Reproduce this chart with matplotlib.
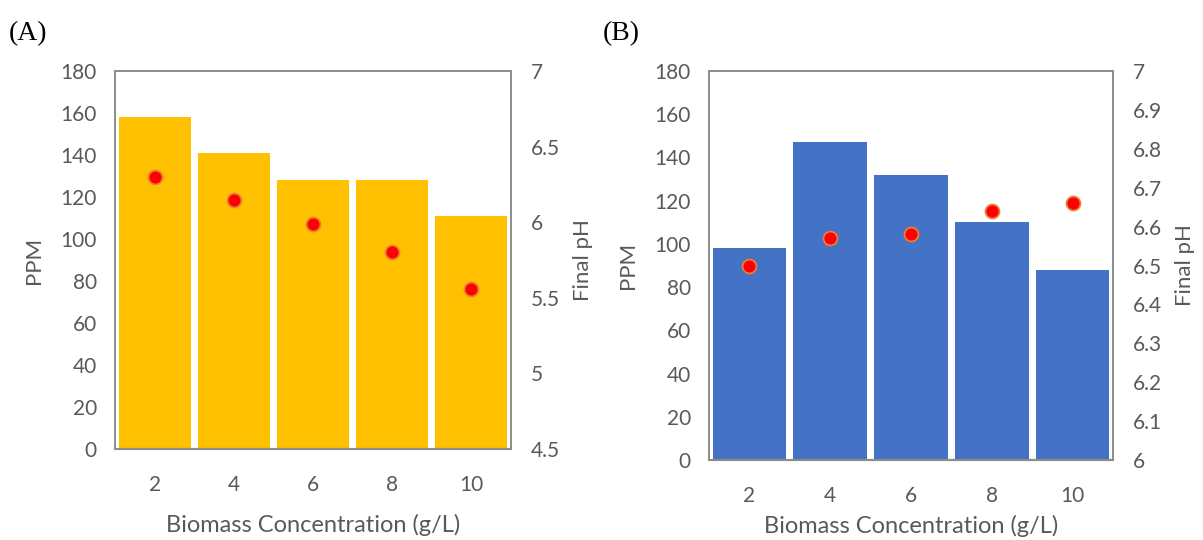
import matplotlib.pyplot as plt

plt.rcParams['font.family'] = ['Lato', 'DejaVu Sans']

biomass = ['2', '4', '6', '8', '10']

ppm_a = [158, 141, 128, 128, 111]
ph_a = [6.30, 6.15, 5.99, 5.80, 5.56]

ppm_b = [98, 147, 132, 110, 88]
ph_b = [6.50, 6.57, 6.58, 6.64, 6.66]

text_color = '#595959'


def draw_panel(ax, ppm, ph, bar_color, ph_lim, ph_ticks, ph_labels, tag, xlabel_pad):
    x = range(len(biomass))
    ax.bar(x, ppm, width=0.91, color=bar_color, zorder=2)
    ax.set_xlim(-0.5, len(biomass) - 0.5)
    ax.set_ylim(0, 180)
    ax.set_yticks(range(0, 181, 20))
    ax.set_xticks(list(x))
    ax.set_xticklabels(biomass)
    ax.tick_params(length=0, labelsize=15, colors=text_color, pad=13)
    ax.tick_params(axis='x', pad=19)
    ax.set_xlabel('Biomass Concentration (g/L)', fontsize=17, color=text_color,
                  labelpad=xlabel_pad)
    ax.set_ylabel('PPM', fontsize=16, color=text_color, labelpad=12)

    ax2 = ax.twinx()
    ax2.plot(list(x), ph, 'o', color='#ff0000', markeredgecolor='#ed7d31',
             markeredgewidth=1.3, markersize=10, zorder=3)
    ax2.set_ylim(*ph_lim)
    ax2.set_yticks(ph_ticks)
    ax2.set_yticklabels(ph_labels)
    ax2.tick_params(length=0, labelsize=15, colors=text_color, pad=14)
    ax2.set_ylabel('Final pH', fontsize=16, color=text_color, labelpad=10)

    for a in (ax, ax2):
        for side in ('top', 'left', 'right'):
            a.spines[side].set_color('#8c8c8c')
            a.spines[side].set_linewidth(1.2)
        a.spines['bottom'].set_color('#8c8c8c')
        a.spines['bottom'].set_linewidth(1.5)

    ax.figure.text(ax.get_position().x0 - 0.088, 0.925, tag, fontsize=20,
                   family='Liberation Serif', color='black')


fig = plt.figure(figsize=(12.03, 5.40), dpi=100)
ax_a = fig.add_axes([0.0956, 0.1685, 0.3292, 0.700])
ax_b = fig.add_axes([0.5894, 0.148, 0.3358, 0.7205])

draw_panel(ax_a, ppm_a, ph_a, '#ffc000', (4.5, 7),
           [4.5, 5, 5.5, 6, 6.5, 7], ['4.5', '5', '5.5', '6', '6.5', '7'], '(A)', 13)
draw_panel(ax_b, ppm_b, ph_b, '#4472c4', (6, 7),
           [6 + i / 10 for i in range(11)],
           ['6', '6.1', '6.2', '6.3', '6.4', '6.5', '6.6', '6.7', '6.8', '6.9', '7'], '(B)', 6)

fig.savefig('out.png', dpi=100)
